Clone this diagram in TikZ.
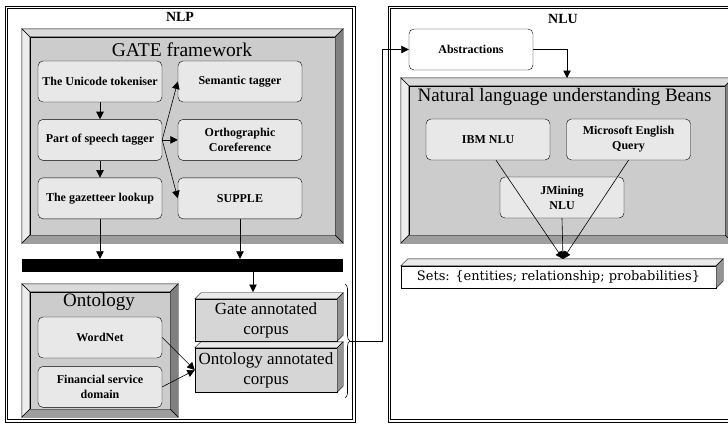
\documentclass[tikz,border=0pt]{standalone}
\usepackage{fontspec}
\setmainfont{Liberation Serif}
\newfontfamily\setsfont{DejaVu Serif}
\usetikzlibrary{arrows.meta}
\usetikzlibrary{positioning}
\usetikzlibrary{decorations.pathreplacing}

\definecolor{facegray}{gray}{0.80}
\definecolor{cellgray}{gray}{0.91}
\definecolor{bevtop}{gray}{0.86}
\definecolor{bevleft}{gray}{0.93}
\definecolor{bevright}{gray}{0.50}
\definecolor{bevbottom}{gray}{0.62}
\definecolor{slabgray}{gray}{0.84}
\definecolor{slabtop}{gray}{0.92}
\definecolor{slabside}{gray}{0.58}

% raised frame round a face node: #1 node, #2 depth in pt
\newcommand{\bevelframe}[2]{%
  \path[draw=black, line width=0.4pt, fill=bevtop]
    (#1.north west) -- (#1.north east) -- ([shift={(#2pt,#2pt)}]#1.north east)
    -- ([shift={(-#2pt,#2pt)}]#1.north west) -- cycle;
  \path[draw=black, line width=0.4pt, fill=bevleft]
    (#1.north west) -- ([shift={(-#2pt,#2pt)}]#1.north west)
    -- ([shift={(-#2pt,-#2pt)}]#1.south west) -- (#1.south west) -- cycle;
  \path[draw=black, line width=0.4pt, fill=bevright]
    (#1.north east) -- ([shift={(#2pt,#2pt)}]#1.north east)
    -- ([shift={(#2pt,-#2pt)}]#1.south east) -- (#1.south east) -- cycle;
  \path[draw=black, line width=0.4pt, fill=bevbottom]
    (#1.south west) -- (#1.south east) -- ([shift={(#2pt,-#2pt)}]#1.south east)
    -- ([shift={(-#2pt,-#2pt)}]#1.south west) -- cycle;
}
% top and side of a block: #1 node, #2 depth in pt
\newcommand{\slabsides}[2]{%
  \path[draw=black, line width=0.4pt, fill=slabtop]
    (#1.north west) -- (#1.north east) -- ([shift={(#2pt,#2pt)}]#1.north east)
    -- ([shift={(#2pt,#2pt)}]#1.north west) -- cycle;
  \path[draw=black, line width=0.4pt, fill=slabside]
    (#1.north east) -- ([shift={(#2pt,#2pt)}]#1.north east)
    -- ([shift={(#2pt,#2pt)}]#1.south east) -- (#1.south east) -- cycle;
}
% second line inside a frame node
\newcommand{\innerline}[1]{%
  \draw[frame] ([shift={(3pt,-3pt)}]#1.north west) rectangle ([shift={(-3pt,3pt)}]#1.south east);
}

\tikzset {
  line/.style = {
    draw = black,
    line width = 0.6pt
  },
  % connector with a filled head
  flow/.style = {
    line,
    -{Triangle[length=7.5pt, width=7.5pt]}
  },
  % outer frame line
  frame/.style = {
    draw = black,
    line width = 0.7pt
  }
}
\tikzset {
  % rounded step box
  unit/.style = {
    draw = black,
    fill = cellgray,
    rounded corners = 5pt,
    minimum width = 124pt,
    minimum height = 41pt,
    inner sep = 2pt,
    align = center,
    font = \bfseries\fontsize{12}{15}\selectfont
  },
  plain unit/.style = {
    unit,
    fill = white
  },
  % face of a raised frame
  face/.style = {
    draw = black,
    fill = facegray,
    line width = 0.4pt
  },
  % front of a block
  slab/.style = {
    draw = black,
    fill = slabgray,
    line width = 0.4pt,
    align = center,
    font = \fontsize{17}{20}\selectfont
  },
  title/.style = {
    font = \fontsize{19.5}{23}\selectfont
  },
  head/.style = {
    font = \bfseries\fontsize{14}{16}\selectfont
  },
  bar/.style = {
    fill = black,
    minimum width = 321pt,
    minimum height = 13pt,
    inner sep = 0
  },
  node distance = 17pt and 16pt
}

\begin{document}
\begin{tikzpicture}[x=1pt, y=-1pt]
    \path[use as bounding box, clip] (0,0) rectangle (728,424);

    % frames
    \node[frame, minimum width=350pt, minimum height=416pt, inner sep=0] (nlp) at (180,214) {};
    \innerline{nlp}
    \node[frame, minimum width=372pt, minimum height=416pt, inner sep=0] (nlu) at (574,214) {};
    \innerline{nlu}
    \node[head] (nlptitle) at (180,17) {NLP};
    \node[head] (nlutitle) at (563,19) {NLU};

    % GATE framework
    \node[face, minimum width=305pt, minimum height=198pt] (gate) at (182.5,136) {};
    \bevelframe{gate}{8}
    \node[title] (gatetitle) at (182,50) {GATE framework};

    \node[unit] (uni) at (100,81.5) {The Unicode tokeniser};
    \node[unit] (pos) [below=of uni] {Part of speech tagger};
    \node[unit] (gaz) [below=of pos] {The gazetteer lookup};
    \node[unit] (sem) at (240,81.5) {Semantic tagger};
    \node[unit] (orth) [below=of sem] {Orthographic\\Coreference};
    \node[unit] (supple) [below=of orth] {SUPPLE};

    \draw[flow] (uni) -- (pos);
    \draw[flow] (pos) -- (gaz);
    \draw[flow] (pos.east) -- (sem.west);
    \draw[flow] (pos.east) -- (orth.west);
    \draw[flow] (pos.east) -- (supple.west);

    \node[bar] (bar) at (182.5,265.5) {};
    \draw[flow] (gaz.south) -- (gaz.south |- bar.north);
    \draw[flow] (supple.south) -- (supple.south |- bar.north);

    % Ontology
    \node[face, minimum width=140pt, minimum height=117pt] (onto) at (100,350.5) {};
    \bevelframe{onto}{8}
    \node[font=\fontsize{19}{22}\selectfont] (ontotitle) at (99,302) {Ontology};
    \node[unit] (wordnet) at (100,337.5) {WordNet};
    \node[unit] (fin) [below=8pt of wordnet] {Financial service\\domain};

    % corpora
    \node[slab, minimum width=142pt, minimum height=42pt] (gcorp) at (266,320) {Gate annotated\\corpus};
    \slabsides{gcorp}{6}
    \node[slab, minimum width=142pt, minimum height=44pt] (ocorp) at (266,370) {Ontology annotated\\corpus};
    \slabsides{ocorp}{6}

    \coordinate (gtop) at (253,292);
    \draw[flow] (bar.south -| gtop) -- (gtop);
    \draw[flow] (wordnet.east) -- (ocorp.west);
    \draw[flow] (fin.east) -- (ocorp.west);

    \coordinate (btop) at (345,284);
    \coordinate (bbot) at (345,398);
    \coordinate (btip) at (350,341);
    \draw[line, decorate, decoration={brace, amplitude=5pt}] (btop) -- (bbot);

    % NLU side
    \node[plain unit] (abs) at (471,49.5) {Abstractions};
    \coordinate (turn) at (382,341);
    \draw[flow] (btip) -- (turn) |- (abs.west);

    \node[face, minimum width=316pt, minimum height=149pt] (beans) at (567,160.5) {};
    \bevelframe{beans}{8}
    \node[font=\fontsize{19}{22}\selectfont] (beanstitle) at (564.5,97) {Natural language understanding Beans};
    \coordinate (bentry) at (567,78);
    \draw[flow] (abs.east) -| (bentry);

    \node[unit] (ibm) at (488,139.5) {IBM NLU};
    \node[unit] (ms) at (628.5,139.5) {Microsoft English\\Query};
    \node[unit] (jm) at (562,197.5) {JMining\\NLU};

    \node[slab, fill=white, minimum width=315pt, minimum height=22pt, inner sep=0,
      font=\setsfont\fontsize{13}{15}\selectfont] (sets) at (558.5,277)
      {Sets: \{entities; relationship; probabilities\}};
    \slabsides{sets}{7}

    \coordinate (meet) at (563,259);
    \draw[flow] ([xshift=8pt]ibm.south) -- (meet);
    \draw[flow] (ms.south) -- (meet);
    \draw[flow] (jm.south) -- (meet);
\end{tikzpicture}
\end{document}
